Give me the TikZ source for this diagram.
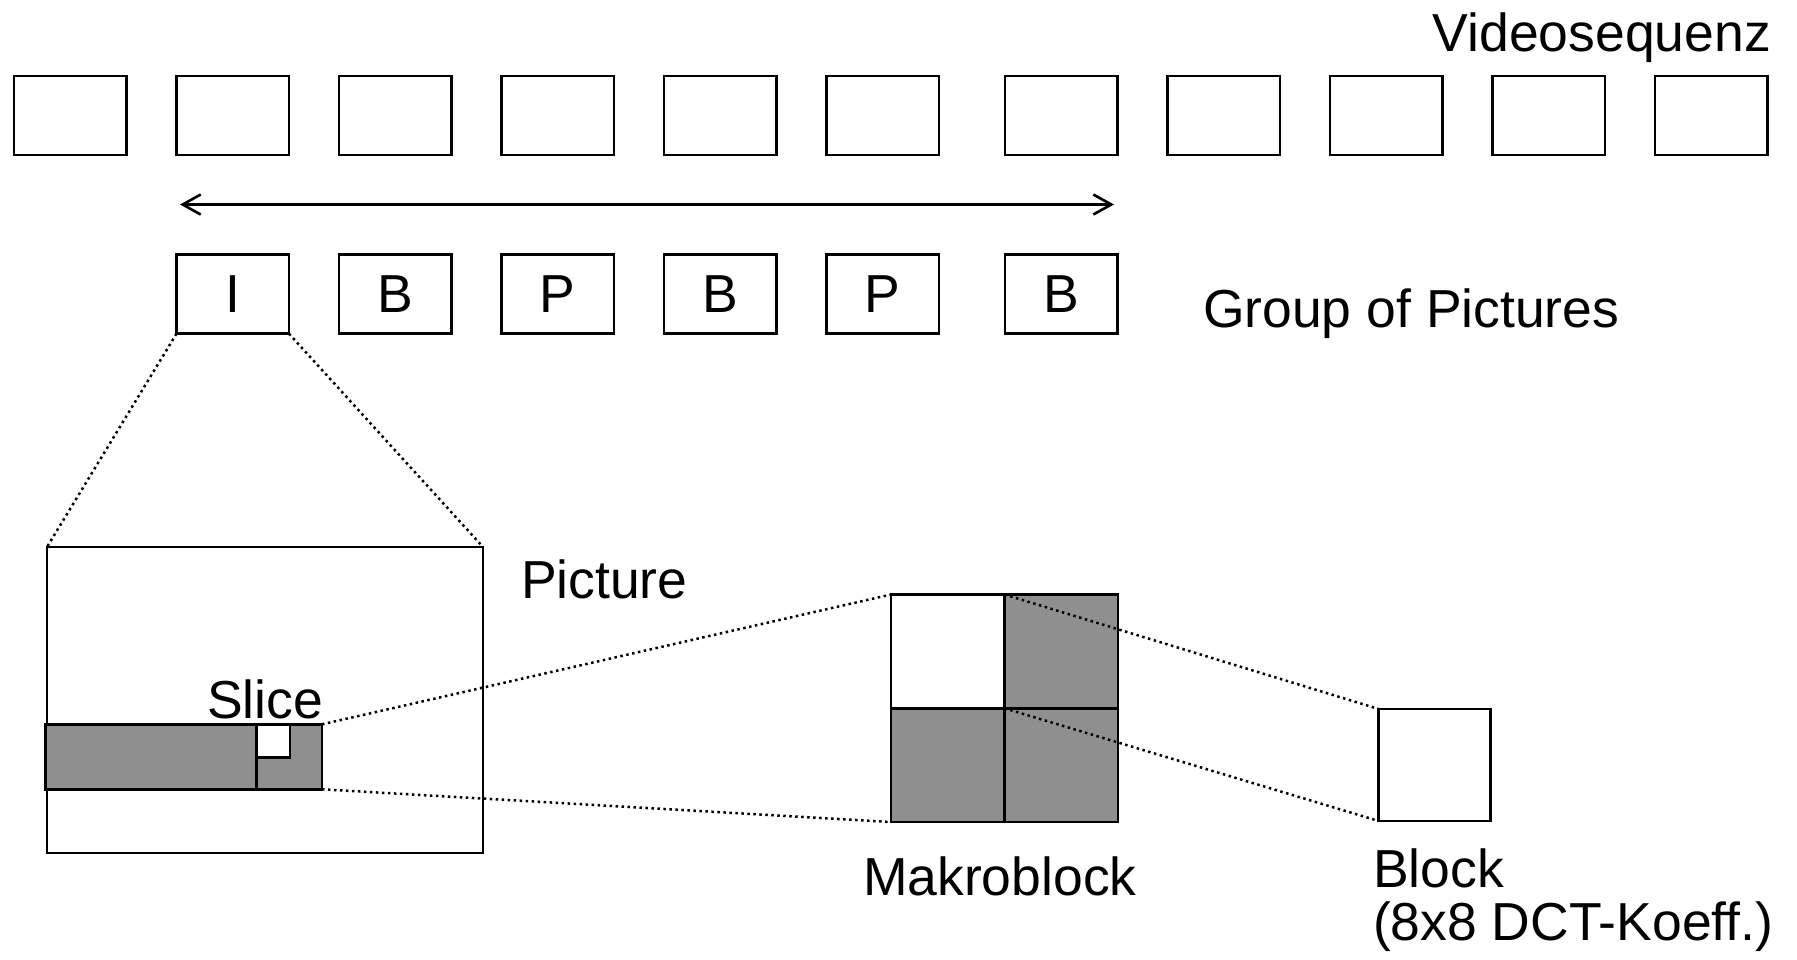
\documentclass[tikz,border=0pt]{standalone}
\usepackage{fontspec}
\setmainfont{Liberation Sans}
\usetikzlibrary{arrows.meta}
\definecolor{slicegray}{RGB}{143,143,143}
\begin{document}
\begin{tikzpicture}[x=1pt,y=-1pt,
  frame/.style={draw, line width=2.8pt, minimum width=112.5pt, minimum height=79pt, inner sep=0pt, outer sep=0pt, anchor=center},
  lbl/.style={inner sep=0pt, outer sep=0pt, font=\fontsize{53.5pt}{54pt}\selectfont},
  box/.style={draw, line width=2.8pt, inner sep=0pt, outer sep=0pt},
  zoomline/.style={line width=2.5pt, dash pattern=on 2.5pt off 3.5pt},
  tip/.style={line width=2.6pt, {Straight Barb[length=18pt,width=20pt]}-{Straight Barb[length=18pt,width=20pt]}}
]
\useasboundingbox (0,0) rectangle (1797,959);
% video sequence row
\foreach \i/\l in {1/13,2/175.5,3/338,4/500.5,5/663,6/825.5,7/1004,8/1166.5,9/1329,10/1491.5,11/1654}{
  \node[frame] (v\i) at (\l+57.25,115.5) {};
}
\node[lbl, anchor=base east] (vseq) at (1771,51.7) {Videosequenz};
% arrow
\coordinate (arL) at (180,204.5);
\coordinate (arR) at (1114,204.5);
\draw[tip] (arL) -- (arR);
% group of pictures
\foreach \i/\l/\t in {1/175.5/I,2/338/B,3/500.5/P,4/663/B,5/825.5/P,6/1004/B}{
  \node[frame, lbl, draw, line width=2.8pt, minimum width=112.5pt, minimum height=79pt] (g\i) at (\l+57.25,294.2) {\t};
}
\node[lbl, anchor=base west] (goplbl) at (1203,327) {Group of Pictures};
% picture
\node[box, minimum width=436pt, minimum height=306pt] (pic) at (265,700) {};
\node[lbl, anchor=base west] (piclbl) at (521,598.5) {Picture};
% slice
\node[box, fill=slicegray, minimum width=276.3pt, minimum height=65pt] (slice) at (183.85,756.8) {};
\draw[line width=2.8pt] (slice.north west -| 256.7,0) coordinate (dvT) -- (slice.south west -| 256.7,0) coordinate (dvB);
\node[box, fill=white, minimum width=33.3pt, minimum height=33pt, anchor=north west] (mb) at (dvT) {};
\node[lbl, anchor=base west] (slicelbl) at (207,718) {Slice};
% makroblock
\node[box, fill=white, minimum width=113.5pt, minimum height=113.75pt] (mbA) at (947.75,651.4) {};
\node[box, fill=slicegray, minimum width=113.5pt, minimum height=113.75pt] (mbB) at (1061.25,651.4) {};
\node[box, fill=slicegray, minimum width=113.5pt, minimum height=113.75pt] (mbC) at (947.75,765.15) {};
\node[box, fill=slicegray, minimum width=113.5pt, minimum height=113.75pt] (mbD) at (1061.25,765.15) {};
\node[lbl, anchor=base west] (mblbl) at (863,895) {Makroblock};
% block
\node[box, minimum width=112pt, minimum height=112pt] (blk) at (1434.75,765) {};
\node[lbl, anchor=base west] (blklbl) at (1373,887) {Block};
\node[lbl, anchor=base west] (blklbl2) at (1373,940) {(8x8 DCT-Koeff.)};
% zoom lines
\draw[zoomline] (g1.south west) -- (pic.north west);
\draw[zoomline] (g1.south east) -- (pic.north east);
\draw[zoomline] (slice.north east) -- (mbA.north west);
\draw[zoomline] (slice.south east) -- (mbC.south west);
\draw[zoomline] (mbA.north east) -- (blk.north west);
\draw[zoomline] (mbA.south east) -- (blk.south west);
\end{tikzpicture}
\end{document}
